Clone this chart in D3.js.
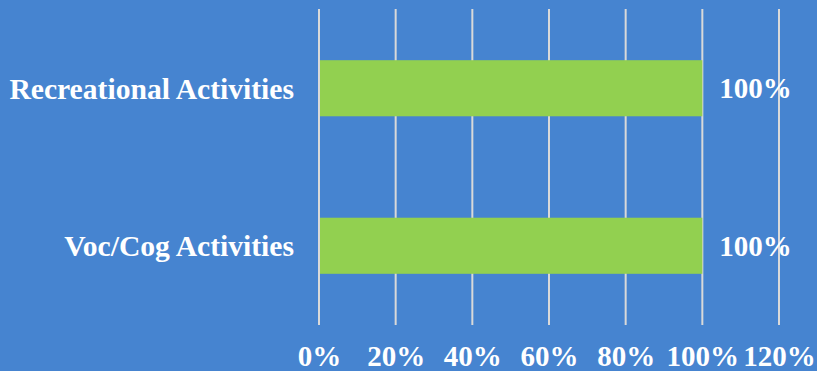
<!DOCTYPE html>
<html lang="en">
<meta charset="UTF-8">
<style>
    body{ margin:0; }
    text{
        font-family:"Liberation Serif","Times New Roman",serif;
        font-weight:bold;
        fill:#fff;
    }
</style>
<body>
<div id="chart"></div>
<script src="https://cdn.jsdelivr.net/npm/d3@7"></script>
<script>
    var categories = ["Recreational Activities", "Voc/Cog Activities"];
    var values = [1.0, 1.0];
    var ticks = [0, 0.2, 0.4, 0.6, 0.8, 1.0, 1.2];

    var width = 817, height = 371;
    var margin = {top: 9, right: 38, bottom: 46, left: 319};
    var fontSize = "29px";

    var svg = d3.select("#chart").append("svg")
        .attr("width", width)
        .attr("height", height);

    svg.append("rect")
        .attr("width", width)
        .attr("height", height)
        .attr("fill", "#4684d0");

    var x = d3.scaleLinear()
        .domain([0, 1.2])
        .range([margin.left, width - margin.right]);

    var y = d3.scaleBand()
        .domain(categories)
        .range([margin.top, height - margin.bottom])
        .paddingInner(0.644)
        .paddingOuter(0.325);

    // gridlines
    svg.append("g")
        .selectAll("line")
        .data(ticks)
        .enter().append("line")
        .attr("x1", function(d){ return x(d); })
        .attr("x2", function(d){ return x(d); })
        .attr("y1", margin.top)
        .attr("y2", height - margin.bottom)
        .attr("stroke", "#d9d9d9")
        .attr("stroke-width", 2);

    // bars
    svg.append("g")
        .selectAll("rect")
        .data(categories)
        .enter().append("rect")
        .attr("x", x(0) + 1)
        .attr("y", function(d){ return y(d); })
        .attr("width", function(d, i){ return x(values[i]) - x(0) - 1; })
        .attr("height", y.bandwidth())
        .attr("fill", "#92d050");

    // category labels
    svg.append("g")
        .selectAll("text")
        .data(categories)
        .enter().append("text")
        .attr("x", 294)
        .attr("y", function(d){ return y(d) + y.bandwidth() / 2; })
        .attr("dy", "0.35em")
        .attr("text-anchor", "end")
        .style("font-size", "29.6px")
        .text(function(d){ return d; });

    // value labels
    svg.append("g")
        .selectAll("text")
        .data(categories)
        .enter().append("text")
        .attr("x", function(d, i){ return x(values[i]) + 17; })
        .attr("y", function(d){ return y(d) + y.bandwidth() / 2; })
        .attr("dy", "0.35em")
        .style("font-size", fontSize)
        .text(function(d, i){ return Math.round(values[i] * 100) + "%"; });

    // x axis tick labels
    var axis = d3.axisBottom(x)
        .tickValues(ticks)
        .tickSize(0)
        .tickPadding(0)
        .tickFormat(function(d){ return Math.round(d * 100) + "%"; });

    var gx = svg.append("g")
        .attr("transform", "translate(0," + (height - margin.bottom) + ")")
        .call(axis);
    gx.select(".domain").remove();
    gx.selectAll("text")
        .attr("y", 31)
        .attr("dy", "0.35em")
        .attr("fill", "#fff")
        .style("font-size", fontSize)
        .style("font-family", "'Liberation Serif','Times New Roman',serif")
        .style("font-weight", "bold");
</script>
</body>
</html>
